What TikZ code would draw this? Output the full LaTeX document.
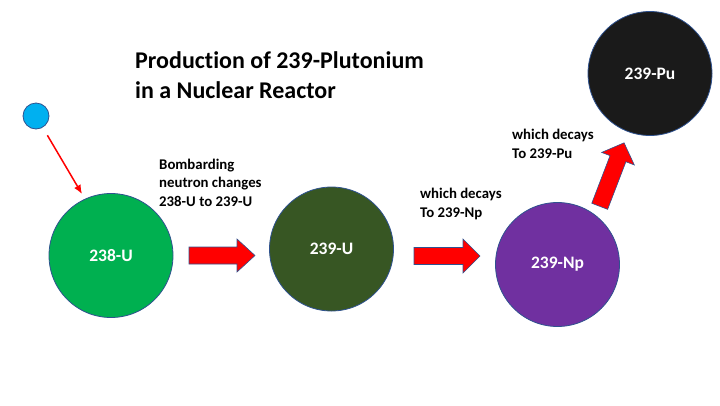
\documentclass[tikz,border=0pt]{standalone}
\usepackage{fontspec}
\setmainfont[Ligatures=NoCommon]{Carlito}
\usetikzlibrary{arrows.meta}
\definecolor{edgeblue}{HTML}{2F528F}
\definecolor{neutronblue}{HTML}{00B0F0}
\definecolor{uranium}{HTML}{00B050}
\definecolor{uraniumdark}{HTML}{375623}
\definecolor{neptunium}{HTML}{7030A0}
\definecolor{plutonium}{HTML}{1A1A1A}
\begin{document}
\begin{tikzpicture}[>={Latex[length=9pt,width=7.5pt]},x=1pt,y=-1pt,
        nucleus/.style={circle,draw=edgeblue,line width=0.8pt,minimum size=124pt,inner sep=0pt,text=white,font=\fontsize{17.5}{21}\selectfont\bfseries},
        note/.style={anchor=base west,align=left,inner sep=0pt,font=\fontsize{14.8}{18.3}\selectfont\bfseries},
        bigarrow/.style={fill=red,draw=edgeblue,line width=0.6pt}]
                \useasboundingbox(0,0)rectangle(720,405);
                % title (anchored on its last line)
                \node[anchor=base west,align=left,inner sep=0pt,font=\fontsize{24}{30}\selectfont\bfseries](title)at(135,98){Production of 239-Plutonium\\in a Nuclear Reactor};
                % nuclei
                \node[circle,fill=neutronblue,draw=edgeblue,line width=0.8pt,minimum size=26pt,inner sep=0pt](neutron)at(36,116){};
                \node[nucleus,fill=uranium](u238)at(111,255.5){238-U};
                \node[nucleus,fill=uraniumdark](u239)at(331.5,249){239-U};
                \node[nucleus,fill=neptunium](np239)at(557.5,264.5){239-Np};
                \node[nucleus,fill=plutonium](pu239)at(650,73.5){239-Pu};
                % notes
                \node[note](bomb)at(159,206){Bombarding\\neutron changes\\238-U to 239-U};
                \node[note](decaynp)at(420,217){which decays\\To 239-Np};
                \node[note](decaypu)at(512,158){which decays\\To 239-Pu};
                % neutron hits 238-U
                \coordinate(hit)at(82,194);
                \draw[red,line width=1.5pt,->,shorten <=9pt](neutron)--(hit);
                % block arrows
                \begin{scope}[shift={(189,255.5)}]
                    \fill[bigarrow](0,-8.5)--(48,-8.5)--(48,-16.5)--(66,0)--(48,16.5)--(48,8.5)--(0,8.5)--cycle;
                \end{scope}
                \begin{scope}[shift={(414,256)}]
                    \fill[bigarrow](0,-8.5)--(49,-8.5)--(49,-17)--(66,0)--(49,17)--(49,8.5)--(0,8.5)--cycle;
                \end{scope}
                \begin{scope}[shift={(599.7,206.3)},rotate=69]
                    \fill[bigarrow](0,-8.5)--(51,-8.5)--(51,-17.5)--(68,0)--(51,17.5)--(51,8.5)--(0,8.5)--cycle;
                \end{scope}
            \end{tikzpicture}
\end{document}
